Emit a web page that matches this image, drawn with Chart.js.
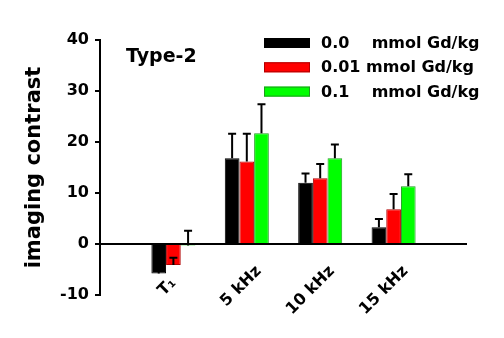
<!DOCTYPE html>
<html>
<head>
<meta charset="utf-8">
<script src="https://cdn.jsdelivr.net/npm/chart.js@4/dist/chart.umd.min.js"></script>
<style>
  html, body { margin: 0; padding: 0; background: #fff; }
  #wrap { width: 504px; height: 338px; }
</style>
</head>
<body>
<div id="wrap"><canvas id="barChart"></canvas></div>
<script>
// donnees
const categories = ['T\u2081', '5 kHz', '10 kHz', '15 kHz'];
const doses = ['0.0    mmol Gd/kg', '0.01 mmol Gd/kg', '0.1    mmol Gd/kg'];
const dose0 = [-5.8, 16.8, 12.0, 3.3];
const dose001 = [-4.1, 16.2, 12.9, 6.8];
const dose01 = [-0.3, 21.7, 16.8, 11.3];
const err0 = [1.0, 4.8, 1.8, 1.6];
const err001 = [1.4, 5.4, 2.8, 3.0];
const err01 = [2.9, 5.7, 2.7, 2.4];
const yTicks = [-10, 0, 10, 20, 30, 40];

const FONT = 'DejaVu Sans';

const toPoints = (vals) => vals.map((v, i) => ({ x: i + 1, y: v }));

// barres d'erreur (vers le haut seulement)
const errorBars = {
    id: 'errorBars',
    afterDatasetsDraw(chart) {
        const ctx = chart.ctx;
        const yScale = chart.scales.y;
        ctx.save();
        ctx.strokeStyle = '#000';
        ctx.lineWidth = 2;
        chart.data.datasets.forEach((ds, di) => {
            const meta = chart.getDatasetMeta(di);
            meta.data.forEach((bar, i) => {
                const v = ds.data[i].y;
                const y0 = yScale.getPixelForValue(v);
                const y1 = yScale.getPixelForValue(v + ds.errors[i]);
                ctx.beginPath();
                ctx.moveTo(bar.x, y0);
                ctx.lineTo(bar.x, y1);
                ctx.moveTo(bar.x - 4, y1);
                ctx.lineTo(bar.x + 4, y1);
                ctx.stroke();
            });
        });
        ctx.restore();
    },
};

// titre et legende dessines a la main
const overlay = {
    id: 'overlay',
    afterDraw(chart) {
        const ctx = chart.ctx;
        ctx.save();
        ctx.fillStyle = '#000';
        ctx.font = 'bold 19px "' + FONT + '"';
        ctx.textAlign = 'left';
        ctx.textBaseline = 'alphabetic';
        ctx.fillText('Type-2', 126, 62);

        ctx.font = 'bold 16px "' + FONT + '"';
        ctx.textBaseline = 'middle';
        chart.data.datasets.forEach((ds, i) => {
            const cy = 43 + i * 24.3;
            ctx.fillStyle = ds.backgroundColor;
            ctx.fillRect(264, cy - 5, 46, 10);
            ctx.strokeStyle = ds.borderColor;
            ctx.lineWidth = 1;
            ctx.strokeRect(264.5, cy - 4.5, 45, 9);
            ctx.fillStyle = '#000';
            ctx.fillText(ds.label, 321, cy + 1);
        });
        ctx.restore();
    },
};

const barCanvas = document.querySelector('#barChart');

if (barCanvas && typeof Chart !== 'undefined') {
    const barChart = new Chart(barCanvas, {
        type: 'bar',
        data: {
            datasets: [
                { label: doses[0], data: toPoints(dose0), errors: err0, backgroundColor: '#000000', borderColor: '#000000', borderWidth: 1 },
                { label: doses[1], data: toPoints(dose001), errors: err001, backgroundColor: '#ff0000', borderColor: '#b00000', borderWidth: 1 },
                { label: doses[2], data: toPoints(dose01), errors: err01, backgroundColor: '#00ff00', borderColor: '#1f9a1f', borderWidth: 1 },
            ],
        },
        options: {
            responsive: true,
            maintainAspectRatio: false,
            animation: false,
            layout: { padding: { top: 40, right: 37, left: 0, bottom: 43 } },
            datasets: { bar: { barPercentage: 1.0, categoryPercentage: 0.6 } },
            scales: {
                x: {
                    type: 'linear',
                    position: { y: 0 },
                    min: 0,
                    max: 5,
                    offset: false,
                    grid: { display: false, offset: false },
                    border: { display: false },
                    afterFit: (scale) => { scale.height = 0; },
                    ticks: {
                        stepSize: 1,
                        autoSkip: false,
                        maxRotation: 45,
                        minRotation: 45,
                        padding: 10,
                        labelOffset: 12,
                        color: '#000',
                        font: { family: FONT, size: 16, weight: 'bold' },
                        // T1 est court : on le pousse sous les barres negatives
                        callback: (v) => (v === 1 ? categories[0] + '   ' : categories[v - 1] || ''),
                    },
                },
                y: {
                    min: yTicks[0],
                    max: yTicks[yTicks.length - 1],
                    afterFit: (scale) => { scale.width = 100; },
                    afterBuildTicks: (scale) => { scale.ticks = yTicks.map((v) => ({ value: v })); },
                    border: { display: true, color: '#000', width: 2 },
                    grid: {
                        color: (c) => (c.tick && c.tick.value === 0 ? '#000' : 'rgba(0,0,0,0)'),
                        lineWidth: 2,
                        tickColor: '#000',
                        tickLength: 5,
                    },
                    ticks: {
                        padding: 6,
                        color: '#000',
                        font: { family: FONT, size: 16, weight: 'bold' },
                    },
                    title: {
                        display: true,
                        text: 'imaging contrast',
                        color: '#000',
                        padding: { top: 22, bottom: 0 },
                        font: { family: FONT, size: 21, weight: 'bold' },
                    },
                },
            },
            plugins: {
                legend: { display: false },
                tooltip: { enabled: false },
            },
        },
        plugins: [errorBars, overlay],
    });
}
</script>
</body>
</html>
